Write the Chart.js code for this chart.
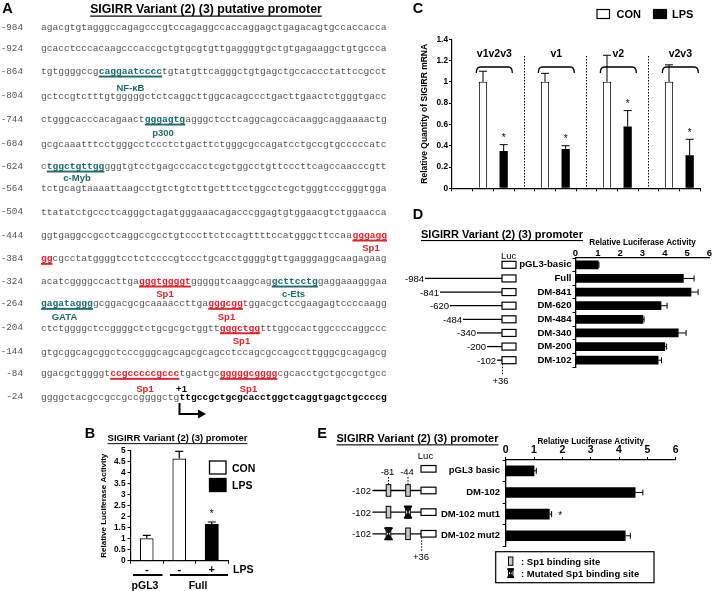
<!DOCTYPE html>
<html><head><meta charset="utf-8">
<script src="https://cdn.jsdelivr.net/npm/chart.js@4.4.1/dist/chart.umd.min.js"></script>
<style>
html,body{margin:0;padding:0;background:#fff;}
#page{position:relative;width:713px;height:591px;overflow:hidden;background:#fff;}
.cv{position:absolute;}
#ov{position:absolute;left:0;top:0;}
</style></head><body>
<div id="page">
  <div class="cv" style="left:96px;top:440px;width:134px;height:133px"><canvas id="chartB"></canvas></div>
  <div class="cv" style="left:412px;top:20px;width:292px;height:175px"><canvas id="chartC"></canvas></div>
  <div class="cv" style="left:514px;top:236px;width:199px;height:138px"><canvas id="chartD"></canvas></div>
  <div class="cv" style="left:430px;top:434px;width:250px;height:121px"><canvas id="chartE"></canvas></div>
  <svg id="ov" width="713" height="591"></svg>
</div>
<script>
// ================= DATA =================
// Panel A: promoter sequence ([..] teal site, {..} red Sp1 site, <..> bold transcribed part)
const seqStarts = ['-984','-924','-864','-804','-744','-684','-624','-564','-504','-444','-384','-324','-264','-204','-144','-84','-24'];
const seqLines = [
 'agacgtgtagggccagagcccgtccagaggccaccaggagctgagacagtgccaccacca',
 'gcacctcccacaagcccaccgctgtgcgtgttgaggggtgctgtgagaaggctgtgccca',
 'tgtggggccg[caggaatcccc]tgtatgttcagggctgtgagctgccaccctattccgcct',
 'gctccgtctttgtgggggctctcaggcttggcacagccctgacttgaactctgggtgacc',
 'ctgggcacccacagaact[gggagtg]agggctcctcaggcagccacaaggcaggaaaactg',
 'gcgcaaatttcctgggcctccctctgacttctgggcgccagatcctgccgtgcccccatc',
 'c[tggctgttgg]gggtgtcctgagcccacctcgctggcctgttcccttcagccaacccgtt',
 'tctgcagtaaaattaagcctgtctgtcttgctttcctggcctcgctgggtcccgggtgga',
 'ttatatctgccctcagggctagatgggaaacagacccggagtgtggaacgtctggaacca',
 'ggtgaggccgcctcaggccgcctgtcccttctccagttttccatgggcttccaa{gggagg}',
 '{gg}cgcctatggggtcctctccccgtccctgcacctggggtgttgagggaggcaagagaag',
 'acatcggggccacttga{gggtggggt}gggggtcaaggcag[gcttcctg]gaggaaagggaa',
 '[gagataggg]gcggacgcgcaaaaccttga{gggcgg}tggacgctccgaagagtccccaagg',
 'ctctggggctccggggctctgcgcgctggtt{gggctgg}tttggccactggccccaggccc',
 'gtgcggcagcggctcccgggcagcagcgcagcctccagcgccagccttgggcgcagagcg',
 'ggacgctggggt{ccgcccccgccc}tgactgc{gggggcgggg}cgcacctgctgccgctgcc',
 'ggggctacgccgccgccggggctg<ttgccgctgcgcacctggctcaggtgagctgccccg>'
];
const siteNames = ['NF-\u03baB','p300','c-Myb','Sp1','Sp1','c-Ets','GATA','Sp1','Sp1','Sp1','Sp1','+1'];

// Panel B
const bCategories = ['-', '-', '+'];
const bGroups = ['pGL3', 'Full'];
const bCon = [1.02, 4.64, null];
const bConErr = [0.13, 0.33, null];
const bLps = [null, null, 1.67];
const bLpsErr = [null, null, 0.09];
const bLpsStar = [false, false, true];

// Panel C
const cGroups = ['v1v2v3', 'v1', 'v2', 'v2v3'];
const cCon = [1.0, 1.0, 1.0, 1.0];
const cConErr = [0.10, 0.08, 0.25, 0.16];
const cLps = [0.35, 0.37, 0.58, 0.31];
const cLpsErr = [0.06, 0.03, 0.15, 0.15];
const cLpsStar = [true, true, true, true];

// Panel D
const dConstructs = ['pGL3-basic','Full','DM-841','DM-620','DM-484','DM-340','DM-200','DM-102'];
const dStarts = [null,'-984','-841','-620','-484','-340','-200','-102'];
const dValues = [1.02, 4.83, 5.17, 3.83, 3.02, 4.60, 4.00, 3.70];
const dErrors = [0.03, 0.48, 0.32, 0.27, 0.05, 0.35, 0.08, 0.15];

// Panel E
const eConstructs = ['pGL3 basic','DM-102','DM-102 mut1','DM-102 mut2'];
const eValues = [1.0, 4.57, 1.54, 4.22];
const eErrors = [0.08, 0.27, 0.08, 0.18];
const eStars = [false, false, true, false];
const eSites = ['-81','-44'];
const eMutated = [[false,false],[false,false],[false,true],[true,false]]; // per construct: [-81 mutated, -44 mutated]
const eHasPromoter = [false, true, true, true];

// ================= LAYOUT / STYLE =================
const SANS = "'Liberation Sans', Arial, sans-serif";
const TEAL = '#1b6d6a', RED = '#e5202a', SEQ = '#555';
const seqRowY = [27,48,71,95.5,119,143.5,166,188,211.7,235,258.3,281,303.3,327.7,351.5,373.3,396.7];
const seqX0 = 41, seqCW = 5.767, seqFS = 9.6;
const siteLabelPos = [[130.5,87,TEAL],[163,132,TEAL],[77,177,TEAL],[371,247,RED],[165,293,RED],[293.5,293,TEAL],
  [64.5,316.5,TEAL],[226.5,316.5,RED],[241.5,340.5,RED],[145,388,RED],[248.5,388,RED],[181.5,388,'#000']];
const dLineStartX = [null,425,440,450,463,477,487,497];
const fmtNum = v => String(Math.round(v * 100) / 100);

// ================= PLUGINS =================
const errBars = {
  id: 'errBars',
  afterDatasetsDraw(chart, args, o) {
    const ctx = chart.ctx;
    const horiz = chart.options.indexAxis === 'y';
    const vs = horiz ? chart.scales.x : chart.scales.y;
    chart.data.datasets.forEach((ds, di) => {
      if (!ds.errors) return;
      const meta = chart.getDatasetMeta(di);
      meta.data.forEach((elm, i) => {
        const v = ds.data[i], e = ds.errors[i];
        if (v == null) return;
        ctx.save();
        ctx.strokeStyle = '#000'; ctx.lineWidth = o.lineWidth || 1;
        let tx = elm.x, ty = elm.y;
        const a = vs.getPixelForValue(v);
        if (e != null) {
          const b = vs.getPixelForValue(v + e);
          ctx.beginPath();
          if (horiz) { ctx.moveTo(a, elm.y); ctx.lineTo(b, elm.y); ctx.moveTo(b, elm.y - o.cap); ctx.lineTo(b, elm.y + o.cap); tx = b; }
          else { ctx.moveTo(elm.x, a); ctx.lineTo(elm.x, b); ctx.moveTo(elm.x - o.cap, b); ctx.lineTo(elm.x + o.cap, b); ty = b; }
          ctx.stroke();
        }
        if (ds.stars && ds.stars[i]) {
          ctx.fillStyle = '#000'; ctx.font = o.starFont; ctx.textAlign = 'center'; ctx.textBaseline = 'middle';
          if (horiz) ctx.fillText('*', tx + o.starGap, ty + 2.5);
          else ctx.fillText('*', tx, ty - o.starGap + 2.5);
        }
        ctx.restore();
      });
    });
  }
};

const groupDecor = {
  id: 'groupDecor',
  afterDraw(chart, args, o) {
    const ctx = chart.ctx, xs = chart.scales.x, area = chart.chartArea;
    const labels = chart.data.labels;
    ctx.save();
    labels.forEach((l, i) => {
      if (l === '' && i > 0) {
        const x = Math.round(xs.getPixelForValue(i)) + 0.5;
        ctx.strokeStyle = '#000'; ctx.lineWidth = 1; ctx.setLineDash([1.5, 1.5]);
        ctx.beginPath(); ctx.moveTo(x, o.sepTop); ctx.lineTo(x, area.bottom); ctx.stroke();
      }
    });
    ctx.setLineDash([]);
    o.groups.forEach((g, gi) => {
      const i1 = labels.indexOf(g + ' CON'), i2 = labels.indexOf(g + ' LPS');
      const x1 = xs.getPixelForValue(i1), x2 = xs.getPixelForValue(i2);
      const mid = (x1 + x2) / 2 + 1, half = (x2 - x1) * 0.87;
      ctx.fillStyle = '#000'; ctx.font = 'bold 10.5px ' + SANS; ctx.textAlign = 'center'; ctx.textBaseline = 'middle';
      ctx.fillText(g, mid, o.labelY);
      ctx.lineWidth = 1.3; ctx.strokeStyle = '#000';
      const L = mid - half, R = mid + half, T = o.brTop, B = o.brBot;
      ctx.beginPath(); ctx.moveTo(L, B); ctx.quadraticCurveTo(L, T, L + 4, T); ctx.lineTo(R - 4, T);
      ctx.quadraticCurveTo(R, T, R, B); ctx.stroke();
    });
    ctx.restore();
  }
};

function font(size, bold, lh) { return {family: SANS, size: size, weight: bold ? 'bold' : 'normal', lineHeight: lh || 1.2}; }
const common = {responsive: true, maintainAspectRatio: false, animation: false, events: []};

// ================= CHART B =================
const chartB = new Chart(document.getElementById('chartB'), {
  type: 'bar',
  data: {labels: bCategories, datasets: [
    {label: 'CON', data: bCon, errors: bConErr, backgroundColor: '#fff', borderColor: '#000', borderWidth: 1.2, barPercentage: 0.42, categoryPercentage: 1, grouped: false},
    {label: 'LPS', data: bLps, errors: bLpsErr, stars: bLpsStar, backgroundColor: '#000', borderColor: '#000', borderWidth: 0, barPercentage: 0.42, categoryPercentage: 1, grouped: false}
  ]},
  options: Object.assign({}, common, {
    layout: {padding: {top: 10.7, right: 2, left: 0, bottom: 0}},
    plugins: {legend: {display: false}, tooltip: {enabled: false}, errBars: {cap: 4, lineWidth: 1.2, starGap: 10, starFont: '10px ' + SANS}},
    scales: {
      x: {grid: {drawOnChartArea: false, tickLength: 3, color: '#000'}, border: {color: '#000', width: 1.2},
          ticks: {color: '#000', font: font(11, true, 1), padding: 1}, afterFit(s) { s.height = 12.3; }},
      y: {min: 0, max: 5, ticks: {stepSize: 0.5, color: '#000', font: font(8.3, true, 1), padding: 2, callback: fmtNum, autoSkip: false},
          grid: {drawOnChartArea: false, tickLength: 3, color: '#000'}, border: {color: '#000', width: 1.2},
          title: {display: true, text: 'Relative Luciferase Activity', color: '#000', font: font(8, true), padding: {top: 2.7, bottom: 0}},
          afterFit(s) { s.width = 34.5; }}
    }
  }),
  plugins: [errBars]
});

// ================= CHART C =================
const cLabels = [], cConData = [], cLpsData = [], cConE = [], cLpsE = [], cStars = [];
cGroups.forEach((g, i) => {
  cLabels.push('', g + ' CON', g + ' LPS');
  cConData.push(null, cCon[i], null); cConE.push(null, cConErr[i], null);
  cLpsData.push(null, null, cLps[i]); cLpsE.push(null, null, cLpsErr[i]);
  cStars.push(false, false, cLpsStar[i]);
});
const chartC = new Chart(document.getElementById('chartC'), {
  type: 'bar',
  data: {labels: cLabels, datasets: [
    {label: 'CON', data: cConData, errors: cConE, backgroundColor: '#fff', borderColor: '#000', borderWidth: 1, barPercentage: 0.4, categoryPercentage: 1, grouped: false},
    {label: 'LPS', data: cLpsData, errors: cLpsE, stars: cStars, backgroundColor: '#000', borderWidth: 0, barPercentage: 0.4, categoryPercentage: 1, grouped: false}
  ]},
  options: Object.assign({}, common, {
    layout: {padding: {top: 19.3, right: 4, left: 0, bottom: 0}},
    plugins: {legend: {display: false}, tooltip: {enabled: false},
      errBars: {cap: 4, lineWidth: 1, starGap: 9, starFont: '10px ' + SANS},
      groupDecor: {groups: cGroups, labelY: 34, brTop: 47, brBot: 53, sepTop: 36}},
    scales: {
      x: {grid: {drawOnChartArea: false, tickLength: 3, color: '#000'}, border: {color: '#000', width: 1.2},
          ticks: {display: false}, afterFit(s) { s.height = 6.7; }},
      y: {min: 0, max: 1.4, ticks: {stepSize: 0.2, color: '#000', font: font(8.3, true, 1), padding: 1, callback: fmtNum, autoSkip: false},
          grid: {drawOnChartArea: false, tickLength: 3, color: '#000'}, border: {color: '#000', width: 1.2},
          title: {display: true, text: 'Relative Quantity of SIGIRR mRNA', color: '#000', font: font(8.5, true), padding: {top: 7.1, bottom: 0}},
          afterFit(s) { s.width = 40; }}
    }
  }),
  plugins: [errBars, groupDecor]
});

// ================= CHART D =================
const chartD = new Chart(document.getElementById('chartD'), {
  type: 'bar',
  data: {labels: dConstructs, datasets: [{data: dValues, errors: dErrors, backgroundColor: '#000', barThickness: 8}]},
  options: Object.assign({}, common, {
    indexAxis: 'y',
    layout: {padding: {top: 0, left: 0, right: 3.5, bottom: 7}},
    plugins: {legend: {display: false}, tooltip: {enabled: false}, errBars: {cap: 3, lineWidth: 1, starGap: 8, starFont: '10px ' + SANS}},
    scales: {
      x: {position: 'top', min: 0, max: 6, ticks: {stepSize: 1, color: '#000', font: font(9.5, true, 1), padding: 0},
          grid: {drawOnChartArea: false, drawTicks: false}, border: {color: '#000', width: 1.3},
          title: {display: true, text: 'Relative Luciferase Activity', color: '#000', font: font(8.2, true), padding: {top: 1.9, bottom: 0}},
          afterFit(s) { s.height = 22; }},
      y: {ticks: {color: '#000', font: font(9.6, true), padding: 1, autoSkip: false},
          grid: {drawOnChartArea: false, tickLength: 3, color: '#000'}, border: {color: '#000', width: 1.3},
          afterFit(s) { s.width = 61.5; }}
    }
  }),
  plugins: [errBars]
});

// ================= CHART E =================
const chartE = new Chart(document.getElementById('chartE'), {
  type: 'bar',
  data: {labels: eConstructs, datasets: [{data: eValues, errors: eErrors, stars: eStars, backgroundColor: '#000', barThickness: 10}]},
  options: Object.assign({}, common, {
    indexAxis: 'y',
    layout: {padding: {top: 0, left: 0, right: 4.3, bottom: 7}},
    plugins: {legend: {display: false}, tooltip: {enabled: false}, errBars: {cap: 3, lineWidth: 1, starGap: 8.5, starFont: '10px ' + SANS}},
    scales: {
      x: {position: 'top', min: 0, max: 6, ticks: {stepSize: 1, color: '#000', font: font(10.5, true, 1), padding: 1.3},
          grid: {drawOnChartArea: false, tickLength: 3, color: '#000'}, border: {color: '#000', width: 1.3},
          title: {display: true, text: 'Relative Luciferase Activity', color: '#000', font: font(8.2, true), padding: {top: 2.9, bottom: 0}},
          afterFit(s) { s.height = 26; }},
      y: {ticks: {color: '#000', font: font(9.5, true), padding: 2.7, autoSkip: false},
          grid: {drawOnChartArea: false, tickLength: 3, color: '#000'}, border: {color: '#000', width: 1.3},
          afterFit(s) { s.width = 75.7; }}
    }
  }),
  plugins: [errBars]
});

// ================= SVG OVERLAY =================
const NS = 'http://www.w3.org/2000/svg';
const svg = document.getElementById('ov');
function el(tag, attrs, text, parent) {
  const e = document.createElementNS(NS, tag);
  for (const k in attrs) e.setAttribute(k, attrs[k]);
  if (text != null) e.textContent = text;
  (parent || svg).appendChild(e); return e;
}
function txt(x, y, s, o) {
  o = o || {};
  const a = {x: x, y: y, 'font-size': o.size || 10, 'font-weight': o.bold ? 'bold' : 'normal',
    'text-anchor': o.anchor || 'middle', 'dominant-baseline': 'central', fill: o.color || '#000', 'font-family': o.family || SANS};
  if (o.underline) a['text-decoration'] = 'underline';
  return el('text', a, s);
}
function line(x1, y1, x2, y2, w, dash) {
  const a = {x1: x1, y1: y1, x2: x2, y2: y2, stroke: '#000', 'stroke-width': w || 1};
  if (dash) a['stroke-dasharray'] = dash;
  return el('line', a);
}
function rect(x, y, w, h, fill, sw) { return el('rect', {x: x, y: y, width: w, height: h, fill: fill, stroke: '#000', 'stroke-width': sw == null ? 1 : sw}); }
function hourglass(cx, cy, w, h) {
  el('path', {d: `M${cx - w/2} ${cy - h/2} L${cx + w/2} ${cy - h/2} L${cx - w/2} ${cy + h/2} L${cx + w/2} ${cy + h/2} Z`, fill: '#111', stroke: '#000', 'stroke-width': 0.8});
  el('line', {x1: cx - w/2, y1: cy - h/2, x2: cx + w/2, y2: cy - h/2, stroke: '#000', 'stroke-width': 1.5});
  el('line', {x1: cx - w/2, y1: cy + h/2, x2: cx + w/2, y2: cy + h/2, stroke: '#000', 'stroke-width': 1.5});
}

// ---- Panel A
txt(7.5, 8, 'A', {size: 14.5, bold: true});
txt(206, 8.5, 'SIGIRR Variant (2) (3) putative promoter', {size: 12.3, bold: true, underline: true});
const MONO = "'Liberation Mono', 'DejaVu Sans Mono', monospace";
seqLines.forEach((s, r) => {
  const y = seqRowY[r];
  txt(23, y, seqStarts[r], {size: 9.3, anchor: 'end', color: SEQ, family: MONO});
  const t = el('text', {y: y, 'font-size': seqFS, 'font-family': MONO, 'dominant-baseline': 'central', fill: SEQ});
  let mode = 'n', buf = '', idx = 0;
  const flush = () => {
    if (!buf) return;
    const col = mode === 't' ? TEAL : mode === 'r' ? RED : mode === 'b' ? '#000' : SEQ;
    el('tspan', {x: seqX0 + idx * seqCW, fill: col, 'font-weight': mode === 'n' ? 'normal' : 'bold'}, buf, t);
    if (mode === 't' || mode === 'r') rect(seqX0 + idx * seqCW, y + 4.6, buf.length * seqCW, 1.9, col, 0);
    idx += buf.length; buf = '';
  };
  for (const ch of s) {
    if ('[{<'.indexOf(ch) >= 0) { flush(); mode = ch === '[' ? 't' : ch === '{' ? 'r' : 'b'; }
    else if (']}>'.indexOf(ch) >= 0) { flush(); mode = 'n'; }
    else buf += ch;
  }
  flush();
});
siteNames.forEach((n, i) => { const p = siteLabelPos[i]; txt(p[0], p[1], n, {size: 9.5, bold: true, color: p[2]}); });
el('path', {d: 'M179.5 403 L179.5 414 L199 414', fill: 'none', stroke: '#000', 'stroke-width': 2});
el('path', {d: 'M198 409.5 L206 414 L198 418.5 Z', fill: '#000'});

// ---- Panel B
txt(90, 432.5, 'B', {size: 14.5, bold: true});
txt(177.5, 437.7, 'SIGIRR Variant (2) (3) promoter', {size: 9.5, bold: true, underline: true});
rect(209.5, 461, 16.5, 13, '#fff', 1.3); txt(232, 467.5, 'CON', {size: 10.5, bold: true, anchor: 'start'});
rect(209.5, 478.5, 16.5, 13, '#000', 1.3); txt(232, 485, 'LPS', {size: 10.5, bold: true, anchor: 'start'});
txt(233, 568.5, 'LPS', {size: 10.5, bold: true, anchor: 'start'});
line(133, 575, 162.5, 575, 2); line(170, 575, 228, 575, 2);
txt(145, 584.5, bGroups[0], {size: 10.5, bold: true}); txt(198, 584.5, bGroups[1], {size: 10.5, bold: true});

// ---- Panel C
txt(418, 7.5, 'C', {size: 14.5, bold: true});
rect(597, 9.5, 12.5, 9, '#fff', 1.2); txt(616.5, 14, 'CON', {size: 11, bold: true, anchor: 'start'});
rect(653.5, 9.5, 13, 9, '#000', 1.2); txt(672, 14, 'LPS', {size: 11, bold: true, anchor: 'start'});

// ---- Panel D
txt(418, 214, 'D', {size: 14.5, bold: true});
txt(502, 234, 'SIGIRR Variant (2) (3) promoter', {size: 11, bold: true, underline: true});
txt(508.7, 255, 'Luc', {size: 9.5});
const dMeta = chartD.getDatasetMeta(0).data;
dConstructs.forEach((c, i) => {
  const y = dMeta[i].y + 236;
  if (dStarts[i]) {
    line(dLineStartX[i], y, 502, y, 1.3);
    txt(dLineStartX[i] - 1, y, dStarts[i], {size: 9.5, anchor: 'end'});
  }
  rect(502, y - 3.5, 14, 7, '#fff', 1.2);
});
const dLastY = dMeta[dMeta.length - 1].y + 236;
line(502.5, dLastY + 3.5, 502.5, dLastY + 14, 1, '1.5,1.5');
txt(500.5, dLastY + 20.5, '+36', {size: 9.5});

// ---- Panel E
txt(322, 433, 'E', {size: 14.5, bold: true});
txt(417.5, 438.3, 'SIGIRR Variant (2) (3) promoter', {size: 11, bold: true, underline: true});
txt(425.5, 455, 'Luc', {size: 9.5});
const eMeta = chartE.getDatasetMeta(0).data;
const eSiteX = [388.5, 408];
eConstructs.forEach((c, i) => {
  const y = eMeta[i].y + 434 - 2;
  if (eHasPromoter[i]) {
    line(372.5, y, 421, y, 1.3);
    txt(371, y, '-102', {size: 9.5, anchor: 'end'});
    eSiteX.forEach((sx, k) => {
      if (eMutated[i][k]) { rect(sx - 2.3, y - 5.8, 4.6, 11.6, '#fff', 1); hourglass(sx, y, 8, 11.5); }
      else rect(sx - 2.3, y - 5.8, 4.6, 11.6, '#c8c8c8', 1);
    });
  }
  rect(421, y - 3.3, 15, 6.6, '#fff', 1.2);
});
const eFirstProm = eMeta[1].y + 434 - 2;
eSites.forEach((s, k) => {
  txt(eSiteX[k] - 1, 471.7, s, {size: 9.5});
  line(eSiteX[k], 477, eSiteX[k], eFirstProm - 6, 1, '1.5,1.5');
});
const eLastY = eMeta[eMeta.length - 1].y + 434 - 2;
line(421.7, eLastY + 3.5, 421.7, 552, 1, '1.5,1.5');
txt(421, 556.5, '+36', {size: 9.5});
rect(495.7, 551.7, 158.3, 31, 'none', 1.2);
rect(508.5, 557, 4.4, 8.3, '#c8c8c8', 1);
txt(521, 561, ': Sp1 binding site', {size: 9.5, bold: true, anchor: 'start'});
rect(508.5, 569, 4.4, 8.3, '#fff', 1); hourglass(510.7, 573.2, 6.5, 8.3);
txt(521, 573.3, ': Mutated Sp1 binding site', {size: 9.5, bold: true, anchor: 'start'});
</script>
</body></html>
